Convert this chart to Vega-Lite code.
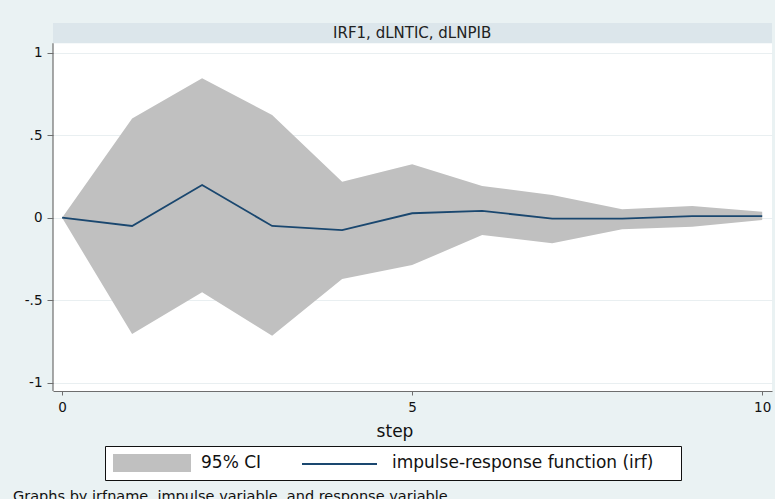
{
  "$schema": "https://vega.github.io/schema/vega-lite/v6.json",
  "autosize": {"type": "none"},
  "width": 719,
  "height": 368,
  "padding": {"left": 53, "top": 23, "right": 3, "bottom": 108},
  "background": "#eaf2f3",
  "config": {
    "view": {"stroke": null, "fill": "white"},
    "font": "DejaVu Sans"
  },
  "title": {
    "text": "Graphs by irfname, impulse variable, and response variable",
    "orient": "bottom",
    "anchor": "start",
    "frame": "group",
    "font": "DejaVu Sans",
    "fontSize": 14.5,
    "fontWeight": "normal",
    "color": "#111",
    "baseline": "alphabetic",
    "dx": -40,
    "offset": 20
  },
  "data": {
    "values": [
      {"step": 0, "lower": 0, "upper": 0, "irf": 0},
      {"step": 1, "lower": -0.705, "upper": 0.602, "irf": -0.05},
      {"step": 2, "lower": -0.452, "upper": 0.845, "irf": 0.198},
      {"step": 3, "lower": -0.715, "upper": 0.622, "irf": -0.05},
      {"step": 4, "lower": -0.372, "upper": 0.218, "irf": -0.075},
      {"step": 5, "lower": -0.287, "upper": 0.324, "irf": 0.027},
      {"step": 6, "lower": -0.105, "upper": 0.192, "irf": 0.042},
      {"step": 7, "lower": -0.155, "upper": 0.138, "irf": -0.006},
      {"step": 8, "lower": -0.07, "upper": 0.051, "irf": -0.006},
      {"step": 9, "lower": -0.055, "upper": 0.071, "irf": 0.01},
      {"step": 10, "lower": -0.014, "upper": 0.036, "irf": 0.01}
    ]
  },
  "layer": [
    {
      "data": {"values": [{}]},
      "mark": {"type": "rect", "color": "#dce6eb"},
      "encoding": {
        "x": {"datum": -0.13, "type": "quantitative"},
        "x2": {"datum": 10.14},
        "y": {"datum": 1.057, "type": "quantitative"},
        "y2": {"datum": 1.18}
      }
    },
    {
      "data": {"values": [{}]},
      "mark": {"type": "rule", "color": "#6e6e6e", "strokeWidth": 1.2},
      "encoding": {
        "x": {"datum": -0.13, "type": "quantitative"},
        "y": {"datum": -1.05, "type": "quantitative"},
        "y2": {"datum": 1.057}
      }
    },
    {
      "mark": {"type": "area", "opacity": 1},
      "encoding": {
        "x": {
          "field": "step",
          "type": "quantitative",
          "scale": {"domain": [-0.13, 10.14], "nice": false, "zero": false},
          "axis": {
            "values": [0, 5, 10],
            "format": "d",
            "title": "step",
            "grid": false,
            "domainColor": "#6e6e6e",
            "domainWidth": 1.2,
            "tickColor": "#6e6e6e",
            "tickSize": 4,
            "labelPadding": 5,
            "labelFont": "DejaVu Sans",
            "labelFontSize": 13.5,
            "labelColor": "#111",
            "titleFont": "DejaVu Sans",
            "titleFontSize": 17,
            "titleFontWeight": "normal",
            "titleColor": "#111",
            "titleX": 341.5,
            "titleY": 45,
            "titleBaseline": "alphabetic",
            "titleAnchor": "middle",
            "titleAlign": "center"
          }
        },
        "y": {
          "field": "lower",
          "type": "quantitative",
          "scale": {"domain": [-1.05, 1.18], "nice": false, "zero": false},
          "axis": {
            "values": [-1, -0.5, 0, 0.5, 1],
            "labelExpr": "datum.value == 1 ? '1' : datum.value == 0.5 ? '.5' : datum.value == 0 ? '0' : datum.value == -0.5 ? '-.5' : '-1'",
            "title": null,
            "domain": false,
            "grid": true,
            "gridColor": "#e9eff1",
            "gridWidth": 1,
            "tickColor": "#6e6e6e",
            "tickSize": 6,
            "labelPadding": 5,
            "labelFont": "DejaVu Sans",
            "labelFontSize": 13.5,
            "labelColor": "#111"
          }
        },
        "y2": {"field": "upper"},
        "fill": {
          "datum": "95% CI",
          "type": "nominal",
          "scale": {"domain": ["95% CI", "impulse-response function (irf)"], "range": ["#c0c0c0", "transparent"]},
          "legend": {
            "title": "x",
            "titleOrient": "right",
            "titleOpacity": 0,
            "titleFontSize": 1,
            "titlePadding": 19,
            "orient": "none",
            "legendX": 52,
            "legendY": 423,
            "zindex": 1,
            "direction": "horizontal",
            "fillColor": "white",
            "strokeColor": "#111",
            "padding": 8,
            "cornerRadius": 0,
            "columnPadding": 42,
            "symbolSize": 324,
            "symbolType": "M-1,-1H7.667V1H-1Z",
            "symbolStrokeWidth": 0,
            "labelOffset": 70,
            "labelFont": "DejaVu Sans",
            "labelFontSize": 17,
            "labelColor": "#111",
            "labelLimit": 1000
          }
        }
      }
    },
    {
      "mark": {"type": "line", "strokeWidth": 1.8},
      "encoding": {
        "x": {"field": "step", "type": "quantitative"},
        "y": {"field": "irf", "type": "quantitative"},
        "stroke": {
          "datum": "impulse-response function (irf)",
          "type": "nominal",
          "scale": {"domain": ["impulse-response function (irf)"], "range": ["#1a476f"]},
          "legend": {
            "title": null,
            "orient": "none",
            "legendX": 248,
            "legendY": 431,
            "zindex": 2,
            "direction": "horizontal",
            "padding": 0,
            "symbolSize": 324,
            "symbolType": "M-1,0H7.333",
            "symbolStrokeWidth": 2,
            "labelOffset": 70,
            "labelFont": "DejaVu Sans",
            "labelFontSize": 1,
            "labelOpacity": 0,
            "labelExpr": "''",
            "labelLimit": 1000
          }
        }
      }
    },
    {
      "data": {"values": [{}]},
      "mark": {"type": "text", "text": "IRF1, dLNTIC, dLNPIB", "font": "DejaVu Sans", "fontSize": 15, "color": "#222", "baseline": "middle", "align": "center"},
      "encoding": {
        "x": {"datum": 5, "type": "quantitative"},
        "y": {"datum": 1.118, "type": "quantitative"}
      }
    }
  ]
}
